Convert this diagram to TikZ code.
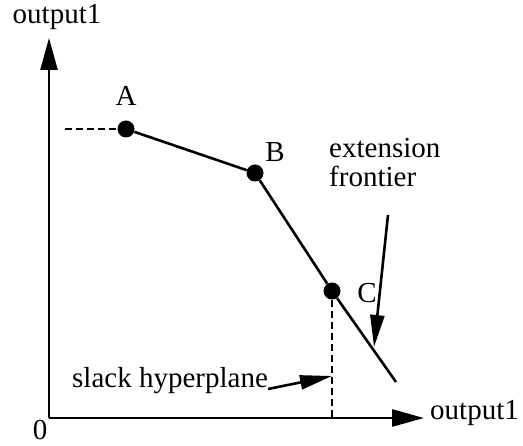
\documentclass[tikz,border=0pt]{standalone}
\usepackage{fontspec}
\setmainfont{Liberation Serif}
\usetikzlibrary{arrows.meta}
\begin{document}
\begin{tikzpicture}[x=1pt,y=-1pt,
  lbl/.style={inner sep=0pt,font=\fontsize{29}{32}\selectfont},
  dot/.style={circle,fill=black,inner sep=0pt,minimum size=17pt},
  axis/.style={line width=2.6pt,-{Triangle[length=32pt,width=17pt]}},
  curve/.style={line width=2.6pt},
  guide/.style={line width=2.6pt,dash pattern=on 7pt off 4pt},
  pointer/.style={line width=2.6pt,-{Triangle[length=32pt,width=14pt]}}]
\useasboundingbox (0,0) rectangle (523,446);
\coordinate (O) at (49,418);
\coordinate (ytip) at (49,38);
\coordinate (xtip) at (424,418);
\draw[axis] (O) -- (ytip);
\draw[axis] (O) -- (xtip);
\node[lbl] (ylab) at (57,17) {output1};
\node[lbl,anchor=west] (xlab) at (430,413) {output1};
\node[lbl] (zero) at (40,430) {0};
\node[dot] (A) at (126,129) {};
\node[dot] (B) at (255,173) {};
\node[dot] (C) at (332,291) {};
\coordinate (E) at (396,382);
\node[lbl] (Alab) at (126,96) {A};
\node[lbl] (Blab) at (275,152) {B};
\node[lbl] (Clab) at (367,293) {C};
\draw[curve] (A) -- (B) -- (C) -- (E);
\coordinate (Adash) at (65,129);
\draw[guide] (Adash) -- (A.west);
\coordinate (Cfoot) at (332,418);
\draw[guide] (C.south) -- (Cfoot);
\node[lbl,anchor=west] (slack) at (72,381) {slack hyperplane};
\coordinate (slacktip) at (332,376);
\draw[pointer] (slack.east) ++(0,8) -- (slacktip);
\node[lbl,align=left,anchor=north west] (ext) at (329,138) {extension\\[-3pt]frontier};
\coordinate (extstart) at (388,215);
\coordinate (exttip) at (374,347);
\draw[pointer] (extstart) -- (exttip);
\end{tikzpicture}
\end{document}
